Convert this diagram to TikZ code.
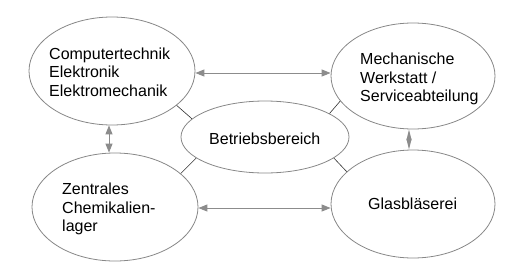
\documentclass[tikz,border=0pt]{standalone}
\usepackage{fontspec}
\setmainfont{Liberation Sans}
\usetikzlibrary{shapes.geometric,arrows.meta}
\definecolor{edgegray}{RGB}{135,135,135}
\definecolor{arrgray}{RGB}{140,140,140}
\definecolor{linedark}{RGB}{50,50,50}
\begin{document}
\begin{tikzpicture}[x=1pt,y=-1pt,
  ell/.style={ellipse,draw=edgegray,line width=0.8pt,inner sep=0pt},
  txt/.style={anchor=west,inner sep=0pt,align=left,font=\fontsize{16}{18.5}\selectfont},
  arr/.style={draw=arrgray,line width=1pt,{Triangle[length=9pt,width=7pt]}-{Triangle[length=9pt,width=7pt]},arrgray},
  dia/.style={draw=arrgray,line width=1pt,{Triangle[length=11pt,width=5pt]}-{Triangle[length=11pt,width=5pt]},arrgray},
  conn/.style={draw=linedark,line width=0.6pt}]
\useasboundingbox (0,0) rectangle (513,279);
\node[ell,minimum width=166pt,minimum height=108pt] (tl) at (112,71) {};
\node[ell,minimum width=164pt,minimum height=106pt] (tr) at (413,76) {};
\node[ell,minimum width=166pt,minimum height=108pt] (bl) at (115,207) {};
\node[ell,minimum width=164pt,minimum height=108pt] (br) at (413,204) {};
\node[ell,minimum width=168pt,minimum height=72pt] (c) at (265,137) {};
\node[txt] (tlt) at (49,72) {Computertechnik\\Elektronik\\Elektromechanik};
\node[txt] (trt) at (360,79) {Mechanische\\Werkstatt /\\Serviceabteilung};
\node[txt] (blt) at (62,209) {Zentrales\\Chemikalien-\\lager};
\node[txt] (brt) at (368,203.5) {Glasbläserei};
\node[txt] (ct) at (209,138.5) {Betriebsbereich};
\draw[arr] (tl.east |- 0,73) -- (tr.west |- 0,73);
\draw[arr] (bl.east |- 0,208) -- (br.west |- 0,208);
\draw[arr] (tl.south -| 109,0) -- (bl.north -| 109,0);
\draw[dia] (tr.south -| 409,0) -- (br.north -| 409,0);
\draw[conn] (c.166.9) -- (tl.-28.4);
\draw[conn] (c.20.1) -- (tr.199.6);
\draw[conn] (c.197.2) -- (bl.27.6);
\draw[conn] (c.-17.2) -- (br.154.1);
\end{tikzpicture}
\end{document}
